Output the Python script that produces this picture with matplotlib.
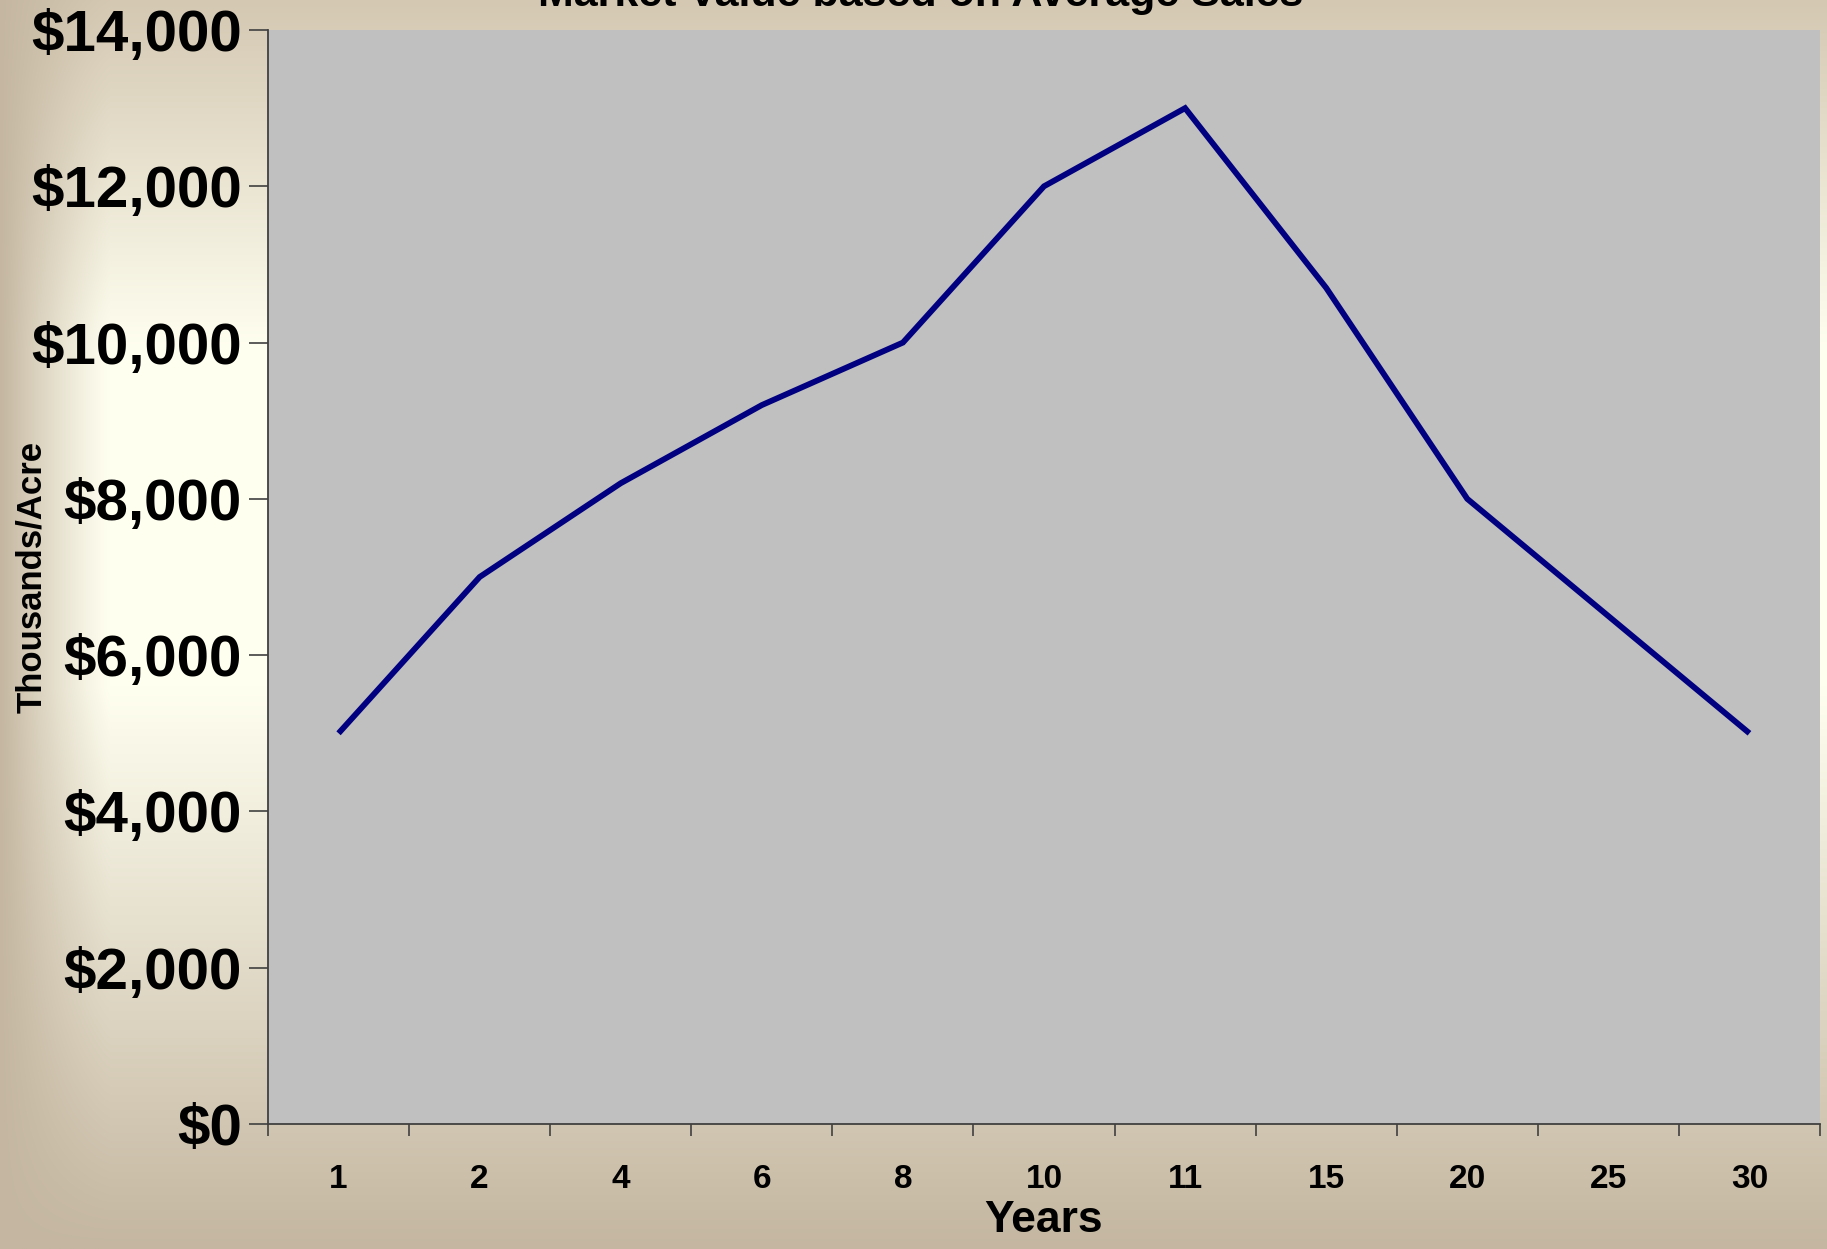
import numpy as np
import matplotlib
matplotlib.use("Agg")
import matplotlib.pyplot as plt
from matplotlib.ticker import FuncFormatter, FixedLocator

# ── data ────────────────────────────────────────────────────────────────
years = ["1", "2", "4", "6", "8", "10", "11", "15", "20", "25", "30"]
value_per_acre = [5000, 7000, 8200, 9200, 10000, 12000, 13000, 10700, 8000, 6500, 5000]

TITLE = "Market Value based on Average Sales"
FONT = "Liberation Sans"

W, H, DPI = 1827, 1249, 100
fig = plt.figure(figsize=(W / DPI, H / DPI), dpi=DPI)

# background: tan-cream vertical gradient with darker left edge
tan_top = np.array([212, 200, 178]) / 255
cream = np.array([255, 255, 240]) / 255
tan_bot = np.array([196, 182, 160]) / 255
yy = np.linspace(0, 1, H)
xx = np.arange(W)
w_cream = np.interp(yy, [0.0, 0.28, 0.55, 1.0], [0.0, 1.0, 1.0, 0.0])
base = np.where(yy[:, None] < 0.4, tan_top, tan_bot)
col = base * (1 - w_cream[:, None]) + cream * w_cream[:, None]
img = np.repeat(col[:, None, :], W, axis=1)
edge = np.clip(1 - xx / 110.0, 0, 1) ** 1.2
img = img * (1 - edge[None, :, None]) + tan_bot * edge[None, :, None]
bg = fig.add_axes([0, 0, 1, 1], zorder=-1)
bg.imshow(img, aspect="auto", extent=[0, 1, 0, 1], interpolation="bilinear")
bg.axis("off")

# main plot area (pixel box: left 268, right 1820, top 30, bottom 1124)
left, right, top, bottom = 268, 1820, 30, 1124
ax = fig.add_axes([left / W, 1 - bottom / H, (right - left) / W, (bottom - top) / H])
ax.set_facecolor("#C0C0C0")

x = np.arange(len(years))
ax.plot(x, value_per_acre, color="#000080", lw=4.2, solid_joinstyle="miter",
        solid_capstyle="butt")

ax.set_xlim(-0.5, len(years) - 0.5)
ax.set_ylim(0, 14000)

for s in ["top", "right"]:
    ax.spines[s].set_visible(False)
for s in ["left", "bottom"]:
    ax.spines[s].set_color("#404040")
    ax.spines[s].set_linewidth(1.3)

ax.set_yticks(np.arange(0, 14001, 2000))
ax.yaxis.set_major_formatter(FuncFormatter(lambda v, p: f"${v:,.0f}"))
ax.tick_params(axis="y", length=13.7, width=1.2, color="#404040", pad=5,
               labelsize=42)

ax.xaxis.set_major_locator(FixedLocator(np.arange(-0.5, len(years), 1.0)))
ax.xaxis.set_major_formatter(FuncFormatter(lambda v, p: ""))
ax.set_xticks(x, minor=True)
ax.set_xticklabels(years, minor=True)
ax.tick_params(axis="x", which="major", length=8.6, width=1.2, color="#404040")
ax.tick_params(axis="x", which="minor", length=0, pad=29, labelsize=24)

for lab in ax.get_yticklabels() + ax.get_xticklabels(minor=True):
    lab.set_fontfamily(FONT)
    lab.set_fontweight("bold")

fig.text((left + right) / 2 / W, 1 - 1220 / H, "Years", ha="center", va="center",
         fontsize=32, fontweight="bold", family=FONT)
fig.text(32 / W, 1 - 577 / H, "Thousands/Acre", ha="center", va="center",
         rotation=90, fontsize=25, fontweight="bold", family=FONT)
fig.text(921 / W, 1 - 6 / H, TITLE, ha="center", va="baseline",
         fontsize=31, fontweight="bold", family=FONT)

fig.savefig("out.png", dpi=DPI)
